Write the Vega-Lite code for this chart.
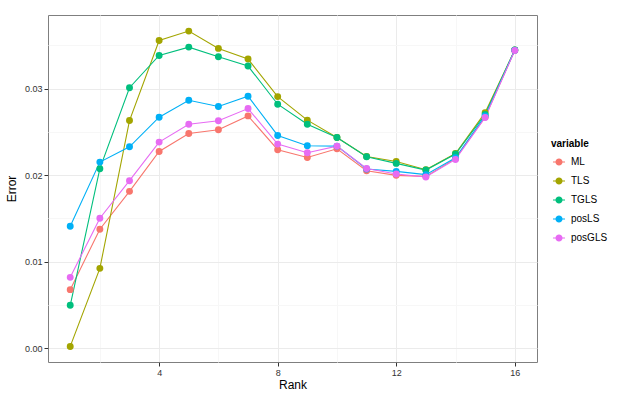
{
  "$schema": "https://vega.github.io/schema/vega-lite/v6.json",
  "width": 489,
  "height": 347,
  "autosize": "none",
  "padding": {"left": 48, "top": 15, "right": 95, "bottom": 38},
  "background": "white",
  "config": {
    "font": "Liberation Sans",
    "view": {"stroke": "#7f7f7f", "strokeWidth": 1}
  },
  "data": {
    "values": [
      {"rank":1,"variable":"ML","error":0.00676},{"rank":2,"variable":"ML","error":0.01375},{"rank":3,"variable":"ML","error":0.01812},{"rank":4,"variable":"ML","error":0.02273},{"rank":5,"variable":"ML","error":0.0248},{"rank":6,"variable":"ML","error":0.02523},{"rank":7,"variable":"ML","error":0.02684},{"rank":8,"variable":"ML","error":0.02293},{"rank":9,"variable":"ML","error":0.02204},{"rank":10,"variable":"ML","error":0.02304},{"rank":11,"variable":"ML","error":0.02051},{"rank":12,"variable":"ML","error":0.01997},{"rank":13,"variable":"ML","error":0.01985},{"rank":14,"variable":"ML","error":0.0219},{"rank":15,"variable":"ML","error":0.0267},{"rank":16,"variable":"ML","error":0.03442},
      {"rank":1,"variable":"TLS","error":0.0002},{"rank":2,"variable":"TLS","error":0.00922},{"rank":3,"variable":"TLS","error":0.0263},{"rank":4,"variable":"TLS","error":0.03556},{"rank":5,"variable":"TLS","error":0.03664},{"rank":6,"variable":"TLS","error":0.03464},{"rank":7,"variable":"TLS","error":0.03341},{"rank":8,"variable":"TLS","error":0.02907},{"rank":9,"variable":"TLS","error":0.02635},{"rank":10,"variable":"TLS","error":0.02434},{"rank":11,"variable":"TLS","error":0.02215},{"rank":12,"variable":"TLS","error":0.02158},{"rank":13,"variable":"TLS","error":0.02062},{"rank":14,"variable":"TLS","error":0.0225},{"rank":15,"variable":"TLS","error":0.02722},{"rank":16,"variable":"TLS","error":0.03446},
      {"rank":1,"variable":"TGLS","error":0.00495},{"rank":2,"variable":"TGLS","error":0.02074},{"rank":3,"variable":"TGLS","error":0.0301},{"rank":4,"variable":"TGLS","error":0.03383},{"rank":5,"variable":"TGLS","error":0.03479},{"rank":6,"variable":"TGLS","error":0.03368},{"rank":7,"variable":"TGLS","error":0.0326},{"rank":8,"variable":"TGLS","error":0.02819},{"rank":9,"variable":"TGLS","error":0.02588},{"rank":10,"variable":"TGLS","error":0.02434},{"rank":11,"variable":"TGLS","error":0.02212},{"rank":12,"variable":"TGLS","error":0.02135},{"rank":13,"variable":"TGLS","error":0.02058},{"rank":14,"variable":"TGLS","error":0.02243},{"rank":15,"variable":"TGLS","error":0.027},{"rank":16,"variable":"TGLS","error":0.03446},
      {"rank":1,"variable":"posLS","error":0.01409},{"rank":2,"variable":"posLS","error":0.0215},{"rank":3,"variable":"posLS","error":0.02327},{"rank":4,"variable":"posLS","error":0.02669},{"rank":5,"variable":"posLS","error":0.02865},{"rank":6,"variable":"posLS","error":0.02792},{"rank":7,"variable":"posLS","error":0.02911},{"rank":8,"variable":"posLS","error":0.02458},{"rank":9,"variable":"posLS","error":0.02339},{"rank":10,"variable":"posLS","error":0.02335},{"rank":11,"variable":"posLS","error":0.0207},{"rank":12,"variable":"posLS","error":0.02043},{"rank":13,"variable":"posLS","error":0.02005},{"rank":14,"variable":"posLS","error":0.022},{"rank":15,"variable":"posLS","error":0.02684},{"rank":16,"variable":"posLS","error":0.03444},
      {"rank":1,"variable":"posGLS","error":0.00818},{"rank":2,"variable":"posGLS","error":0.01501},{"rank":3,"variable":"posGLS","error":0.01935},{"rank":4,"variable":"posGLS","error":0.02381},{"rank":5,"variable":"posGLS","error":0.02588},{"rank":6,"variable":"posGLS","error":0.02627},{"rank":7,"variable":"posGLS","error":0.02769},{"rank":8,"variable":"posGLS","error":0.02358},{"rank":9,"variable":"posGLS","error":0.02258},{"rank":10,"variable":"posGLS","error":0.02335},{"rank":11,"variable":"posGLS","error":0.02077},{"rank":12,"variable":"posGLS","error":0.02012},{"rank":13,"variable":"posGLS","error":0.01978},{"rank":14,"variable":"posGLS","error":0.02181},{"rank":15,"variable":"posGLS","error":0.02665},{"rank":16,"variable":"posGLS","error":0.0344}
    ]
  },
  "encoding": {
    "x": {
      "field": "rank", "type": "quantitative", "title": "Rank",
      "scale": {"domain": [0.25, 16.75], "nice": false, "zero": false},
      "axis": {
        "values": [2, 4, 6, 8, 10, 12, 14, 16],
        "labelExpr": "datum.value % 4 === 0 ? datum.label : ''",
        "domain": false,
        "gridColor": {"condition": {"test": "datum.value % 4 === 0", "value": "#ebebeb"}, "value": "#f7f7f7"},
        "gridWidth": 1,
        "tickColor": "#333333",
        "tickOpacity": {"condition": {"test": "datum.value % 4 === 0", "value": 1}, "value": 0},
        "tickSize": 4,
        "labelFontSize": 9,
        "labelColor": "#333333",
        "labelPadding": 2,
        "titleFontSize": 12,
        "titleFontWeight": "normal",
        "titleColor": "#000000",
        "titlePadding": 2
      }
    },
    "y": {
      "field": "error", "type": "quantitative", "title": "Error",
      "scale": {"domain": [-0.0016, 0.0385], "nice": false, "zero": false},
      "axis": {
        "values": [0, 0.005, 0.01, 0.015, 0.02, 0.025, 0.03, 0.035],
        "format": ".2f",
        "labelExpr": "abs(datum.value*100 - round(datum.value*100)) < 0.001 ? datum.label : ''",
        "domain": false,
        "gridColor": {"condition": {"test": "abs(datum.value*100 - round(datum.value*100)) < 0.001", "value": "#ebebeb"}, "value": "#f7f7f7"},
        "gridWidth": 1,
        "tickColor": "#333333",
        "tickOpacity": {"condition": {"test": "abs(datum.value*100 - round(datum.value*100)) < 0.001", "value": 1}, "value": 0},
        "tickSize": 4,
        "labelFontSize": 9,
        "labelColor": "#333333",
        "labelPadding": 2,
        "titleFontSize": 12,
        "titleFontWeight": "normal",
        "titleColor": "#000000",
        "titlePadding": 6
      }
    },
    "color": {
      "field": "variable", "type": "nominal",
      "scale": {"domain": ["ML", "TLS", "TGLS", "posLS", "posGLS"], "range": ["#F8766D", "#A3A500", "#00BF7D", "#00B0F6", "#E76BF3"]},
      "legend": {
        "title": "variable",
        "orient": "none",
        "legendX": 503,
        "legendY": 124,
        "titleFontSize": 10,
        "titleFontWeight": "bold",
        "titleColor": "#000000",
        "labelFontSize": 10,
        "labelColor": "#000000",
        "symbolSize": 200,
        "rowPadding": 5,
        "labelOffset": 4,
        "encode": {"symbols": {"update": {
          "shape": {"value": "M-0.85,0L0.85,0M-0.42,0A0.42,0.42 0 1,1 0.42,0A0.42,0.42 0 1,1 -0.42,0Z"},
          "size": {"value": 200},
          "stroke": {"scale": "color", "field": "value"},
          "strokeWidth": {"value": 1.2},
          "strokeOpacity": {"value": 1}
        }}}
      }
    }
  },
  "layer": [
    {"mark": {"type": "line", "strokeWidth": 1.1}},
    {"mark": {"type": "point", "filled": true, "opacity": 1, "size": 48}}
  ]
}
